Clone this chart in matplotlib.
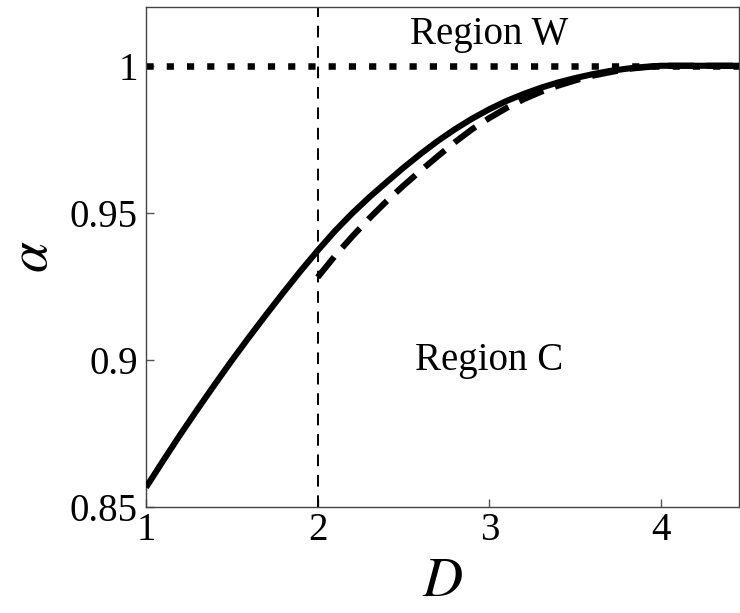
import numpy as np
import matplotlib
matplotlib.use('Agg')
import matplotlib.pyplot as plt

# values
d_solid = [1.0, 1.1, 1.2, 1.3, 1.4, 1.5, 1.6, 1.7, 1.8, 1.9, 2.0, 2.1, 2.2,
           2.3, 2.4, 2.5, 2.6, 2.7, 2.8, 2.9, 3.0, 3.1, 3.2, 3.3, 3.4, 3.5,
           3.6, 3.7, 3.8, 3.9, 4.0, 4.5]
alpha_solid = [0.8565, 0.8656, 0.8745, 0.8831, 0.8915, 0.8997, 0.9076,
               0.9153, 0.9228, 0.9301, 0.9371, 0.9437, 0.9497, 0.9552,
               0.9603, 0.9653, 0.9700, 0.9744, 0.9784, 0.9820, 0.9852,
               0.9880, 0.9904, 0.9925, 0.9943, 0.9958, 0.9971, 0.9982,
               0.9990, 0.9996, 1.0, 1.0]

d_dash = [2.0, 2.1, 2.2, 2.3, 2.4, 2.5, 2.6, 2.7, 2.8, 2.9, 3.0, 3.1, 3.2,
          3.3, 3.4, 3.5, 3.6, 3.8, 4.0, 4.5]
alpha_dash = [0.928, 0.9352, 0.9418, 0.9480, 0.9538, 0.9592, 0.9643, 0.9692,
              0.9740, 0.9784, 0.9822, 0.9856, 0.9886, 0.9911, 0.9932,
              0.9950, 0.9966, 0.9989, 1.0, 1.0]

d_bound = 2.0
alpha_top = 1.0

xticks = [1, 2, 3, 4]
xticklabels = ['1', '2', '3', '4']
yticks = [0.85, 0.9, 0.95, 1.0]
yticklabels = ['0.85', '0.9', '0.95', '1']

plt.rcParams['font.family'] = ['Liberation Serif', 'DejaVu Serif']
plt.rcParams['mathtext.fontset'] = 'stix'

fig = plt.figure(figsize=(7.4, 6.13), dpi=100)
ax = fig.add_axes([0.1973, 0.1737, 0.8013, 0.8149])

# horizontal dotted line at alpha = 1
ax.axhline(alpha_top, color='black', lw=4.7, ls=(0, (1.1, 2.0)),
           dash_capstyle='butt', zorder=2)
# vertical dashed line at D = 2
ax.axvline(d_bound, color='black', lw=1.4, ls=(0, (6.0, 4.5)),
           dash_capstyle='butt', zorder=2)

ax.plot(d_solid, alpha_solid, color='black', lw=4.4, solid_capstyle='butt',
        solid_joinstyle='round', zorder=3)
ax.plot(d_dash, alpha_dash, color='black', lw=4.4, ls=(0, (4.3, 2.0)),
        dash_capstyle='butt', zorder=3)

ax.text(3.0, 1.0075, 'Region W', fontsize=28, ha='center', va='baseline')
ax.text(3.0, 0.8963, 'Region C', fontsize=28, ha='center', va='baseline')

ax.set_xlim(1, 4.455)
ax.set_ylim(0.85, 1.02)
ax.set_xticks(xticks)
ax.set_xticklabels(xticklabels)
ax.set_yticks(yticks)
ax.set_yticklabels(yticklabels)
ax.tick_params(direction='in', length=6, width=1, color='#555555',
               labelsize=28)
ax.tick_params(axis='x', pad=4)
ax.tick_params(axis='y', pad=6)

for s in ax.spines.values():
    s.set_color('#444444')
    s.set_linewidth(1.0)

ax.set_xlabel(r'$D$', fontsize=40, labelpad=5)
ax.set_ylabel(r'$\alpha$', fontsize=40, labelpad=8)

fig.savefig('out.png', dpi=100)
